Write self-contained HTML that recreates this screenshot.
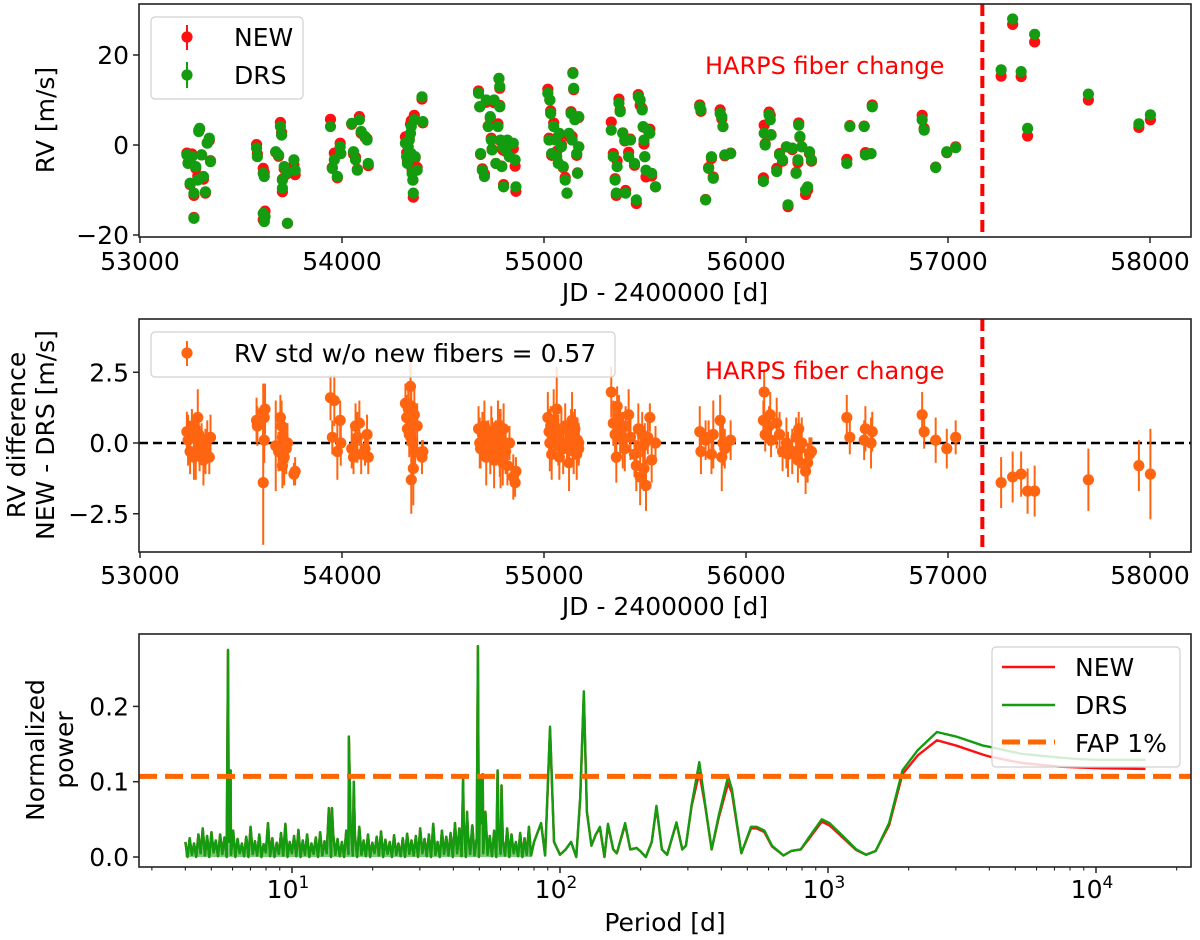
<!DOCTYPE html>
<html><head><meta charset="utf-8"><title>HARPS RV comparison</title>
<style>
html,body{margin:0;padding:0;background:#fff;}
svg{display:block;font-family:"DejaVu Sans","Liberation Sans",sans-serif;}
</style></head>
<body>
<svg id="fig" xmlns="http://www.w3.org/2000/svg" width="1200" height="940" viewBox="0 0 1200 940"></svg>
<script>
// ---------- Panel 1 & 2 data ----------
const jd = [
53232,53238,53248,53257,53267,53267,53276,53286,53291,53295,53305,53314,53324,53333,53343,53349,
53577,53581,53610,53615,53610,53615,53619,53672,53686,53695,53701,53705,53705,53714,53724,53730,53762,53768,
53943,53952,53962,53977,53991,53994,54048,54057,54067,54076,54086,54095,54114,54124,54130,
54314,54320,54324,54328,54333,54339,54343,54343,54347,54351,54353,54358,54362,54372,54396,54400,
54676,54682,54686,54695,54705,54714,54724,54734,54739,54743,54753,54762,54772,54777,54781,54781,54785,54791,54796,54800,54810,54819,54829,54848,54857,54861,
55019,55025,55029,55033,55038,55048,55057,55063,55071,55076,55086,55095,55105,55114,55124,55134,55139,55143,55147,55153,55162,55166,55172,55172,
55333,55343,55352,55358,55362,55371,55377,55390,55400,55404,55419,55428,55448,55457,55467,55476,55486,55491,55495,55499,55505,55514,55524,55533,55552,
55771,55777,55800,55815,55829,55838,55872,55880,55886,55895,55924,
56086,56090,56095,56114,56120,56124,56152,56166,56181,56200,56208,56229,56248,56257,56261,56267,56276,56295,56305,56314,56324,
56499,56514,56585,56591,56619,56625,56872,56882,56939,56994,57038,
57263,57320,57362,57394,57429,57695,57945,58002];
const rvDrs = [
-2.2,-4.1,-8.5,-2.6,-10.7,-16.3,-4.8,-7.8,3.0,3.7,-2.2,-7.0,-10.4,0.4,1.5,-3.7,
-0.7,-2.6,-6.3,-7.0,-15.2,-17.0,-15.9,-1.5,-2.2,4.1,2.2,-7.8,-9.6,-4.8,-6.3,-17.4,-3.3,-5.6,
4.1,-5.2,-3.3,-7.0,-0.4,-1.9,4.8,-1.5,-3.3,-5.6,5.6,3.0,1.9,1.1,-4.1,
0.4,-2.6,-4.1,-0.4,1.1,2.6,4.1,-1.9,-6.3,-7.8,-10.7,5.6,-2.6,-5.6,10.7,5.2,
11.5,8.5,-1.9,-5.6,-7.0,10.0,4.1,6.3,1.1,-1.1,10.0,-4.1,4.1,14.8,13.0,8.5,1.1,-4.8,-0.4,-9.3,-1.1,1.1,-2.6,0.4,-3.3,-9.3,
11.5,1.1,10.0,7.0,-1.9,4.1,1.1,-2.6,-4.1,2.6,-0.4,-4.8,-7.8,-10.7,2.6,7.0,1.1,15.9,12.6,5.6,-1.9,-6.3,-0.4,6.3,
3.3,-2.6,-7.8,-10.7,-4.8,9.3,7.4,2.6,1.1,-10.7,-2.6,1.1,-4.1,-12.2,10.7,10.0,7.8,4.1,1.1,-2.6,-5.6,3.3,2.6,-6.3,-9.3,
8.5,7.8,-12.2,-5.2,-2.6,-7.4,7.0,6.3,4.1,-2.2,-1.9,
-8.1,2.6,0,6.7,5.6,2.2,-5.9,-2.2,-3.3,-0.4,-13.3,-0.7,-6.3,-3.3,4.4,1.9,-0.4,-10.0,-9.3,-1.5,-3.3,
-4.1,4.1,4.1,-2.2,-1.9,8.5,5.6,3.3,-5.0,-1.5,-0.6,
16.7,28.0,16.3,3.7,24.6,11.3,4.7,6.7];
const rvDiff = [
0.4,0.1,-0.3,0.6,-0.5,0.2,-0.4,0.9,0.3,-0.2,0.0,-0.6,-0.3,0.1,-0.5,0.2,
0.8,0.6,1.1,0.9,-1.4,0.1,1.2,-0.1,-0.3,0.9,0.6,0.2,-0.8,-0.5,-0.2,0.0,-1.1,-1.0,
1.6,0.2,1.5,-0.3,0.8,0.0,-0.2,-0.5,0.6,0.2,0.7,-0.4,-0.2,0.3,-0.5,
1.4,0.9,0.5,1.2,0.3,2.0,1.3,-1.3,0.8,0.0,-0.9,1.0,-0.3,0.6,-0.5,-0.3,
0.5,0.0,-0.2,0.3,0.6,-0.5,0.1,-0.3,0.4,0.2,-0.6,0.0,0.6,-0.1,-0.4,0.3,-0.2,0.1,-0.7,0.5,-0.3,-0.8,0.0,-1.2,-1.4,-1.0,
0.9,0.4,0.0,0.6,-0.4,0.8,0.3,1.2,0.1,-0.5,0.5,-0.2,0.6,0.0,-0.7,0.4,0.8,0.2,-0.3,0.5,-0.4,0.1,0.0,-0.2,
1.8,0.7,0.3,-0.5,1.3,0.9,0.4,0.1,-0.2,0.6,1.0,0.2,-0.4,-0.8,0.5,-1.2,0.3,-0.1,-0.9,0.0,-1.5,0.2,0.9,-0.6,0.0,
0.4,-0.3,0.1,0.2,-0.4,0.3,0.8,-0.5,0.0,-0.2,0.1,
0.8,1.8,0.3,0.6,1.0,0.1,0.7,0.3,-0.3,0.0,-0.4,-0.3,0.2,-0.6,0.5,-0.2,0.0,-1.0,-0.7,-0.4,-0.3,
0.9,0.2,0.1,0.5,0.0,0.4,1.0,0.4,0.1,-0.2,0.2,
-1.4,-1.2,-1.1,-1.7,-1.7,-1.3,-0.8,-1.1];
const errDiff = [
.7,.9,.8,.6,.8,.7,.9,1.0,.6,.8,.7,.9,.8,.7,.6,.8,
.8,.7,1.0,.9,2.2,.8,.9,1.6,.7,.8,.9,.6,.8,1.0,.9,.7,.4,.5,
.8,.6,.9,1.0,.7,.8,.7,.6,.8,.9,.8,.7,.6,.7,.6,
.7,.8,.6,.7,.8,1.1,.9,1.2,.7,.8,1.3,.9,.7,.8,.6,.4,
.8,.9,.7,.8,.9,1.0,.7,.8,.9,.7,1.0,.8,.9,.7,.8,.9,1.4,.7,.8,.9,.8,.7,.6,.8,.5,.5,
.9,.8,1.0,.7,.9,1.1,.8,1.5,.9,.8,.7,.9,.8,.7,1.0,.8,1.0,.9,.8,.7,.9,.8,.7,.6,
.9,.8,1.0,.9,.7,.8,.9,1.0,.8,.7,.9,.8,.8,.9,.9,1.0,.8,.7,.8,.7,.9,.6,.5,.8,.6,
.9,.8,.7,.6,.7,1.2,.9,1.2,.8,.7,.7,
.7,.8,.6,.7,.8,.6,.9,.8,.7,.9,.8,.8,.7,.8,.6,.7,.9,.8,.7,.6,.5,
.8,.6,.7,.8,.9,.7,.8,.6,.8,.7,.6,
.9,.9,.8,.8,.9,1.1,.9,1.6];
const fiberChangeJD = 57170;
const jdTicks = [53000,54000,55000,56000,57000,58000];
const rvTicks = [-20,0,20];
const diffTicks = [-2.5,0.0,2.5];
const diffTickLabels = ["\u22122.5","0.0","2.5"];
const rvStdLabel = "0.57";

// ---------- Panel 3 data ----------
const noisePow = [
0.02,0.0,0.025,0.003,0.018,0.0,0.03,0.005,0.038,0.002,0.028,0.0,0.033,0.006,0.022,0.001,0.03,0.004,0.026,0.0,
0.02,0.003,0.035,0.0,0.024,0.005,0.018,0.001,0.027,0.0,0.04,0.004,0.021,0.002,0.03,0.0,0.017,0.006,0.045,0.001,
0.025,0.0,0.019,0.004,0.032,0.002,0.044,0.0,0.02,0.005,0.028,0.001,0.036,0.0,0.022,0.003,0.03,0.0,0.018,0.004,
0.026,0.0,0.033,0.002,0.021,0.005,0.065,0.0,0.03,0.003,0.024,0.001,0.02,0.0,0.035,0.004,0.045,0.002,0.028,0.0,
0.04,0.003,0.022,0.001,0.03,0.0,0.019,0.005,0.027,0.002,0.034,0.0,0.023,0.004,0.02,0.0,0.029,0.003,0.018,0.001,
0.025,0.0,0.031,0.004,0.022,0.002,0.028,0.0,0.038,0.005,0.024,0.001,0.03,0.0,0.044,0.003,0.02,0.0,0.035,0.004,
0.027,0.002,0.032,0.0,0.045,0.005,0.038,0.001,0.05,0.0,0.03,0.004,0.042,0.002,0.025,0.0,0.045,0.005,0.06,0.003,
0.028,0.001,0.035,0.0,0.04,0.004,0.022,0.002,0.038,0.0,0.03,0.005,0.02,0.001,0.032,0.0,0.025,0.003,0.04,0.002];
const noisePmin = 4.0, noisePmax = 78.0;
const peakP   = [5.77,5.83,5.9,14.1,16.3,17.0,43.5,45.0,47.0,49.4,50.5,51.5,58.5,60.5];
const peakPow = [0.275,0.11,0.115,0.065,0.16,0.10,0.105,0.06,0.04,0.28,0.105,0.11,0.115,0.095];
const smoothP = [80,85,88,91.8,95,100,105,110,115,119,122.7,126,131,136,141,146.5,151,158,163,175,183,193,199,209,220,229,240,251,272,286,295,310,331,348,368,391,424,438,475,516,542,579,618,682,729,791,845,948,1013,1157,1276,1387,1506,1690,1896,2163,2549,3006,3784,4043,5263,7310,8610,10160,15300];
const smoothDrs = [0.02,0.045,0.002,0.173,0.02,0.003,0.01,0.02,0.0,0.08,0.22,0.06,0.015,0.03,0.04,0.0,0.044,0.01,0.005,0.045,0.01,0.012,0.008,0.0,0.02,0.068,0.01,0.003,0.046,0.01,0.015,0.07,0.126,0.07,0.01,0.055,0.107,0.09,0.005,0.04,0.04,0.035,0.015,0.002,0.008,0.01,0.025,0.05,0.045,0.025,0.01,0.003,0.008,0.045,0.115,0.142,0.166,0.16,0.148,0.146,0.137,0.132,0.13,0.129,0.129];
const smoothNew = [0.02,0.045,0.002,0.17,0.02,0.003,0.01,0.02,0.0,0.078,0.215,0.06,0.015,0.03,0.038,0.0,0.042,0.01,0.005,0.043,0.01,0.012,0.008,0.0,0.02,0.066,0.01,0.003,0.045,0.01,0.015,0.068,0.112,0.068,0.01,0.052,0.098,0.085,0.005,0.038,0.038,0.033,0.014,0.002,0.008,0.01,0.023,0.047,0.042,0.023,0.009,0.003,0.008,0.042,0.11,0.135,0.155,0.148,0.136,0.133,0.125,0.12,0.119,0.118,0.117];
const fap1 = 0.107;
const powTicks = [0.0,0.1,0.2];
const decadeTicks = [1,2,3,4];

// ---------- helpers ----------
const NS = "http://www.w3.org/2000/svg";
const svg = document.getElementById("fig");
function el(tag, attrs, parent){
  const e = document.createElementNS(NS, tag);
  for (const k in attrs) e.setAttribute(k, attrs[k]);
  (parent||svg).appendChild(e);
  return e;
}
const FS = 25;
const C_RED = "#ff1010", C_GREEN = "#139c0f", C_ORANGE = "#ff6510";

const X0 = 139, X1 = 1191;
function xJD(v){ return 140 + (v - 53000) * 0.202; }
function y1(v){ return 145 - v * 4.5; }
function y2(v){ return 443 - v * 28.3; }
function xP(p){ return 292 + (Math.log10(p) - 1) * 268; }
function y3(v){ return 857 - v * 753; }
const P1 = {top:4, bot:237}, P2 = {top:319, bot:552}, P3 = {top:634, bot:867};

function frame(p, name){
  const r = el("rect", {x:X0, y:p.top, width:X1-X0, height:p.bot-p.top, fill:"none", stroke:"#222", "stroke-width":1.6});
  
  
  return r;
}
function clipFor(p, id){
  const defs = el("defs", {});
  const cp = el("clipPath", {id:id}, defs);
  el("rect", {x:X0, y:p.top, width:X1-X0, height:p.bot-p.top}, cp);
  const g = el("g", {"clip-path":"url(#"+id+")"});
  return g;
}
function txt(x, y, s, opts, name){
  const t = el("text", Object.assign({x:x, y:y, "font-size":FS, fill:"#000"}, opts||{}));
  t.textContent = s;
  
  
  return t;
}
function xTicksJD(p, baseline, prefix){
  jdTicks.forEach(v => {
    const x = xJD(v);
    const l = el("line", {x1:x, x2:x, y1:p.bot, y2:p.bot+6, stroke:"#222", "stroke-width":1.5});
    
    
    txt(x, baseline, String(v), {"text-anchor":"middle"}, prefix+'-x-tick-label');
  });
}
function yTicks(vals, labels, fy, prefix){
  vals.forEach((v,i) => {
    const y = fy(v);
    const l = el("line", {x1:X0-6, x2:X0, y1:y, y2:y, stroke:"#222", "stroke-width":1.5});
    
    
    txt(X0-10, y+9, labels[i], {"text-anchor":"end"}, prefix+'-y-tick-label');
  });
}
function legendBox(x, y, w, h, name){
  const r = el("rect", {x:x, y:y, width:w, height:h, rx:4, fill:"#fff", "fill-opacity":0.82, stroke:"#d0d0d0", "stroke-width":1.2});
  
  
}

// ================= Panel 1 =================
const g1 = clipFor(P1, "c1");


const n1 = Math.min(jd.length, rvDrs.length, rvDiff.length);
for (let i=0;i<n1;i++){
  const c = el("circle", {cx:xJD(jd[i]), cy:y1(rvDrs[i]+rvDiff[i]), r:5.6, fill:C_RED}, g1);
  
  
}
for (let i=0;i<n1;i++){
  const c = el("circle", {cx:xJD(jd[i]), cy:y1(rvDrs[i]), r:5.6, fill:C_GREEN}, g1);
  
  
}
const f1 = el("line", {x1:xJD(fiberChangeJD), x2:xJD(fiberChangeJD), y1:P1.top, y2:P1.bot, stroke:"#ff0000", "stroke-width":4, "stroke-dasharray":"12,6"}, g1);


txt(705, 74, "HARPS fiber change", {fill:"#ff0000", "font-size":24}, 'fiber-change-label');
frame(P1, 'rv-axes-frame');
xTicksJD(P1, 270, 'rv');
yTicks(rvTicks, ["\u221220","0","20"], y1, 'rv');
txt(0,0,"RV [m/s]", {"text-anchor":"middle", transform:"translate(54,120) rotate(-90)"}, 'rv-y-axis-title');
txt(665, 301, "JD - 2400000 [d]", {"text-anchor":"middle"}, 'rv-x-axis-title');
legendBox(151, 17, 152, 82, 'rv-legend');
el("line", {x1:187, x2:187, y1:25, y2:50, stroke:C_RED, "stroke-width":2});
el("circle", {cx:187, cy:37, r:5.6, fill:C_RED});
el("line", {x1:187, x2:187, y1:62, y2:88, stroke:C_GREEN, "stroke-width":2});
el("circle", {cx:187, cy:75, r:5.6, fill:C_GREEN});
txt(234, 46, "NEW", {}, 'legend-new-label');
txt(234, 84, "DRS", {}, 'legend-drs-label');

// ================= Panel 2 =================
const g2 = clipFor(P2, "c2");


const z = el("line", {x1:X0, x2:X1, y1:y2(0), y2:y2(0), stroke:"#000", "stroke-width":2.5, "stroke-dasharray":"9,5"}, g2);


const n2 = Math.min(jd.length, rvDiff.length, errDiff.length);
for (let i=0;i<n2;i++){
  const x = xJD(jd[i]);
  const e = el("line", {x1:x, x2:x, y1:y2(rvDiff[i]-errDiff[i]), y2:y2(rvDiff[i]+errDiff[i]), stroke:C_ORANGE, "stroke-width":2}, g2);
  
  
}
for (let i=0;i<n2;i++){
  const c = el("circle", {cx:xJD(jd[i]), cy:y2(rvDiff[i]), r:5.6, fill:C_ORANGE}, g2);
  
  
}
const f2 = el("line", {x1:xJD(fiberChangeJD), x2:xJD(fiberChangeJD), y1:P2.top, y2:P2.bot, stroke:"#ff0000", "stroke-width":4, "stroke-dasharray":"12,6"}, g2);


txt(705, 379, "HARPS fiber change", {fill:"#ff0000", "font-size":24}, 'fiber-change-label-2');
frame(P2, 'diff-axes-frame');
xTicksJD(P2, 584, 'diff');
yTicks(diffTicks, diffTickLabels, y2, 'diff');
txt(0,0,"RV difference", {"text-anchor":"middle", transform:"translate(25,435) rotate(-90)"}, 'diff-y-axis-title-1');
txt(0,0,"NEW - DRS [m/s]", {"text-anchor":"middle", transform:"translate(54,435) rotate(-90)"}, 'diff-y-axis-title-2');
txt(665, 615, "JD - 2400000 [d]", {"text-anchor":"middle"}, 'diff-x-axis-title');
legendBox(151, 332, 464, 45, 'diff-legend');
el("line", {x1:187, x2:187, y1:341, y2:366, stroke:C_ORANGE, "stroke-width":2});
el("circle", {cx:187, cy:353, r:5.6, fill:C_ORANGE});
txt(234, 362, "RV std w/o new fibers = " + rvStdLabel, {}, 'legend-diff-label');

// ================= Panel 3 =================
const g3 = clipFor(P3, "c3");


function noiseSeries(){
  const pts = [];
  const n = noisePow.length;
  for (let i=0;i<n;i++){
    const p = noisePmin * Math.pow(noisePmax/noisePmin, i/(n-1));
    pts.push([p, noisePow[i]]);
  }
  for (let i=0;i<peakP.length;i++) pts.push([peakP[i], peakPow[i]]);
  pts.sort((a,b)=>a[0]-b[0]);
  return pts;
}
function buildSeries(smoothVals){
  const pts = noiseSeries();
  for (let i=0;i<smoothP.length;i++) pts.push([smoothP[i], smoothVals[i]]);
  return pts;
}
function pathD(pts){
  return pts.map((q,i)=>(i?"L":"M")+xP(q[0]).toFixed(2)+","+y3(q[1]).toFixed(2)).join("");
}
function drawCurve(pts, color, name){
  const pth = el("path", {d:pathD(pts), fill:"none", stroke:color, "stroke-width":2.4, "stroke-linejoin":"round"}, g3);
  
  
}
drawCurve(buildSeries(smoothNew), C_RED, 'new-periodogram-line');
// dense noise band shading
const np = noiseSeries();
const band = el("path", {d:pathD(np)+"L"+xP(np[np.length-1][0]).toFixed(2)+","+y3(0)+"L"+xP(np[0][0]).toFixed(2)+","+y3(0)+"Z", fill:C_GREEN, "fill-opacity":0.55, stroke:"none"}, g3);


drawCurve(buildSeries(smoothDrs), C_GREEN, 'drs-periodogram-line');
const fap = el("line", {x1:X0, x2:X1, y1:y3(fap1), y2:y3(fap1), stroke:"#ff6600", "stroke-width":5, "stroke-dasharray":"18,8"}, g3);


frame(P3, 'periodogram-axes-frame');
yTicks(powTicks, ["0.0","0.1","0.2"], y3, 'power');
for (let dec=0; dec<=4; dec++){
  for (let m=1; m<=9; m++){
    const p = m*Math.pow(10,dec);
    const x = xP(p);
    if (x < X0 || x > X1) continue;
    const major = (m===1);
    const t = el("line", {x1:x, x2:x, y1:P3.bot, y2:P3.bot+(major?6:3.5), stroke:"#222", "stroke-width":major?1.5:1.1});
    
    
  }
}
decadeTicks.forEach(k => {
  const x = xP(Math.pow(10,k));
  const t = el("text", {x:x-4, y:898, "font-size":FS, "text-anchor":"middle", fill:"#000"});
  
  
  const a = el("tspan", {}, t); a.textContent = "10";
  const b = el("tspan", {dy:-10, "font-size":17}, t); b.textContent = String(k);
});
txt(0,0,"Normalized", {"text-anchor":"middle", transform:"translate(44,750) rotate(-90)"}, 'power-y-axis-title-1');
txt(0,0,"power", {"text-anchor":"middle", transform:"translate(73,750) rotate(-90)"}, 'power-y-axis-title-2');
txt(665, 931, "Period [d]", {"text-anchor":"middle"}, 'period-x-axis-title');
legendBox(992, 647, 188, 120, 'periodogram-legend');
el("line", {x1:1002, x2:1055, y1:667, y2:667, stroke:C_RED, "stroke-width":2.4});
el("line", {x1:1002, x2:1055, y1:705, y2:705, stroke:C_GREEN, "stroke-width":2.4});
el("line", {x1:1002, x2:1055, y1:742, y2:742, stroke:"#ff6600", "stroke-width":5, "stroke-dasharray":"18,8"});
txt(1075, 676, "NEW", {}, 'legend-new-line-label');
txt(1075, 714, "DRS", {}, 'legend-drs-line-label');
txt(1075, 752, "FAP 1%", {}, 'legend-fap-label');
</script>
</body></html>
